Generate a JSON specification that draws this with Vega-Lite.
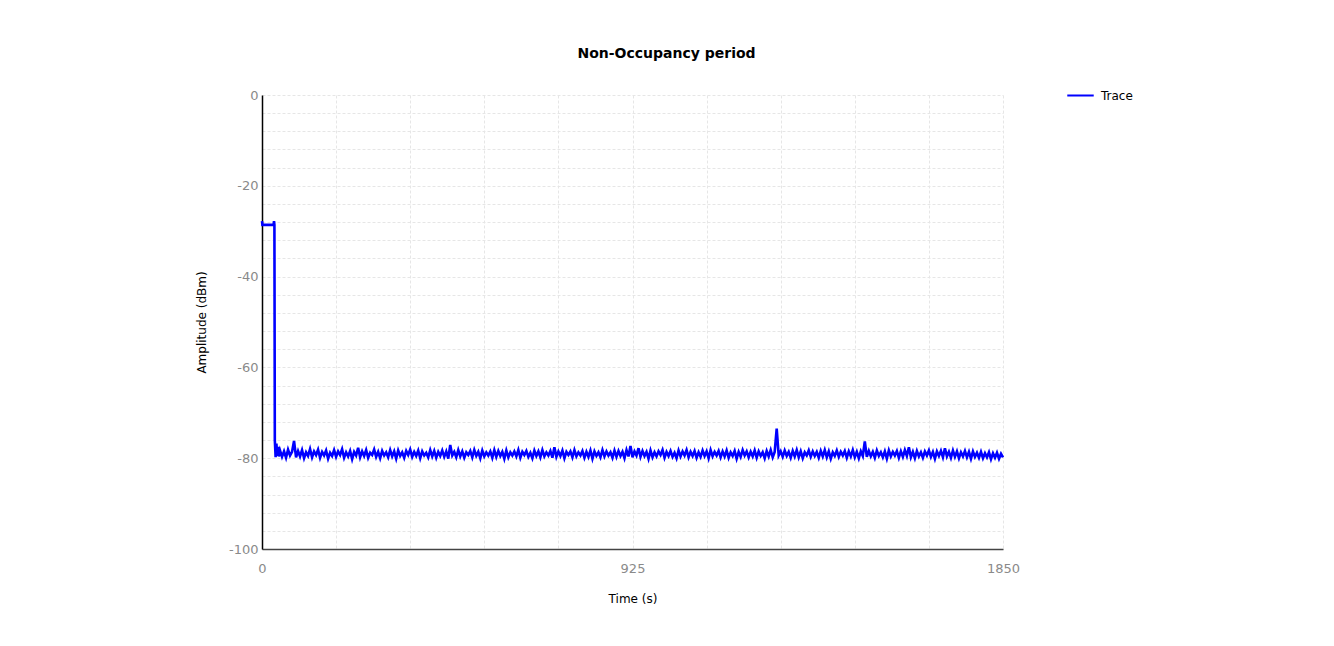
{
  "$schema": "https://vega.github.io/schema/vega-lite/v6.json",
  "autosize": {"type": "none"},
  "width": 741,
  "height": 454,
  "padding": {"left": 262, "top": 95, "right": 331, "bottom": 97},
  "background": "white",
  "title": {"text": "Non-Occupancy period", "anchor": "middle", "dx": 34, "offset": 20, "font": "DejaVu Sans", "fontSize": 14, "fontWeight": "bold", "color": "black"},
  "config": {
    "view": {"stroke": null},
    "font": "DejaVu Sans",
    "axis": {"gridColor": "#e6e6e6", "gridDash": [3, 2], "gridWidth": 1, "ticks": false, "labelFont": "DejaVu Sans", "labelFontSize": 13, "labelColor": "#8a8a8a", "titleFont": "DejaVu Sans", "titleFontSize": 12, "titleFontWeight": "normal", "titleColor": "black"}
  },
  "data": {"values": [
    {"t":0,"a":-27.8},{"t":1,"a":-28.6},{"t":15,"a":-28.6},{"t":29,"a":-28.6},{"t":30,"a":-27.8},{"t":31,"a":-28.6},
    {"t":32,"a":-76.0},{"t":34,"a":-79.8},{"t":36,"a":-76.8},{"t":38,"a":-79.5},{"t":40,"a":-77.5},{"t":42,"a":-79.6},
    {"t":45,"a":-78.3},{"t":50,"a":-79.7},{"t":55,"a":-78.5},{"t":60,"a":-79.9},{"t":65,"a":-78.1},{"t":70,"a":-79.4},{"t":75,"a":-78.6},{"t":80,"a":-76.2},{"t":85,"a":-79.8},{"t":90,"a":-78.4},
    {"t":95,"a":-79.6},{"t":100,"a":-78.2},{"t":105,"a":-80.0},{"t":110,"a":-78.7},{"t":115,"a":-79.5},{"t":120,"a":-78.0},{"t":125,"a":-79.8},{"t":130,"a":-78.5},{"t":135,"a":-79.3},{"t":140,"a":-78.1},
    {"t":145,"a":-79.9},{"t":150,"a":-78.6},{"t":155,"a":-79.4},{"t":160,"a":-78.3},{"t":165,"a":-80.1},{"t":170,"a":-78.8},{"t":175,"a":-79.5},{"t":180,"a":-78.2},{"t":185,"a":-79.7},{"t":190,"a":-78.5},
    {"t":195,"a":-79.3},{"t":200,"a":-78.0},{"t":205,"a":-79.9},{"t":210,"a":-78.7},{"t":215,"a":-79.6},{"t":220,"a":-78.4},{"t":225,"a":-80.2},{"t":230,"a":-78.6},{"t":235,"a":-79.4},{"t":240,"a":-77.7},
    {"t":245,"a":-79.8},{"t":250,"a":-78.5},{"t":255,"a":-79.5},{"t":260,"a":-78.2},{"t":265,"a":-79.9},{"t":270,"a":-78.8},{"t":275,"a":-79.3},{"t":280,"a":-78.1},{"t":285,"a":-79.7},{"t":290,"a":-78.6},
    {"t":295,"a":-80.0},{"t":300,"a":-78.4},{"t":305,"a":-79.4},{"t":310,"a":-78.7},{"t":315,"a":-79.8},{"t":320,"a":-78.2},{"t":325,"a":-79.6},{"t":330,"a":-78.5},{"t":335,"a":-80.1},{"t":340,"a":-78.3},
    {"t":345,"a":-79.5},{"t":350,"a":-78.7},{"t":355,"a":-79.9},{"t":360,"a":-78.4},{"t":365,"a":-79.3},{"t":370,"a":-78.1},{"t":375,"a":-79.7},{"t":380,"a":-78.6},{"t":385,"a":-79.5},{"t":390,"a":-78.3},
    {"t":395,"a":-80.0},{"t":400,"a":-78.5},{"t":405,"a":-79.4},{"t":410,"a":-78.8},{"t":415,"a":-79.8},{"t":420,"a":-78.2},{"t":425,"a":-79.6},{"t":430,"a":-78.4},{"t":435,"a":-79.9},{"t":440,"a":-78.6},
    {"t":445,"a":-79.5},{"t":450,"a":-78.3},{"t":455,"a":-79.7},{"t":460,"a":-78.5},{"t":465,"a":-80.1},{"t":470,"a":-77.1},{"t":475,"a":-79.4},{"t":480,"a":-78.6},{"t":485,"a":-79.8},{"t":490,"a":-78.2},
    {"t":495,"a":-79.6},{"t":500,"a":-78.5},{"t":505,"a":-79.9},{"t":510,"a":-78.7},{"t":515,"a":-79.3},{"t":520,"a":-78.4},{"t":525,"a":-79.8},{"t":530,"a":-78.2},{"t":535,"a":-79.5},{"t":540,"a":-78.6},
    {"t":545,"a":-80.0},{"t":550,"a":-78.3},{"t":555,"a":-79.6},{"t":560,"a":-78.7},{"t":565,"a":-79.4},{"t":570,"a":-78.5},{"t":575,"a":-79.9},{"t":580,"a":-78.2},{"t":585,"a":-79.7},{"t":590,"a":-78.4},
    {"t":595,"a":-79.5},{"t":600,"a":-78.6},{"t":605,"a":-80.1},{"t":610,"a":-78.3},{"t":615,"a":-79.8},{"t":620,"a":-78.7},{"t":625,"a":-79.4},{"t":630,"a":-78.5},{"t":635,"a":-79.6},{"t":640,"a":-78.2},
    {"t":645,"a":-79.9},{"t":650,"a":-78.6},{"t":655,"a":-79.3},{"t":660,"a":-78.4},{"t":665,"a":-79.7},{"t":670,"a":-78.8},{"t":675,"a":-80.0},{"t":680,"a":-78.3},{"t":685,"a":-79.5},{"t":690,"a":-78.5},
    {"t":695,"a":-79.8},{"t":700,"a":-78.2},{"t":705,"a":-79.6},{"t":710,"a":-78.7},{"t":715,"a":-79.4},{"t":720,"a":-78.4},{"t":725,"a":-79.9},{"t":730,"a":-77.6},{"t":735,"a":-79.7},{"t":740,"a":-78.5},
    {"t":745,"a":-79.5},{"t":750,"a":-78.3},{"t":755,"a":-80.0},{"t":760,"a":-78.6},{"t":765,"a":-79.3},{"t":770,"a":-78.5},{"t":775,"a":-79.8},{"t":780,"a":-78.2},{"t":785,"a":-79.6},{"t":790,"a":-78.7},
    {"t":795,"a":-79.4},{"t":800,"a":-78.4},{"t":805,"a":-79.9},{"t":810,"a":-78.6},{"t":815,"a":-79.7},{"t":820,"a":-78.3},{"t":825,"a":-80.1},{"t":830,"a":-78.5},{"t":835,"a":-79.5},{"t":840,"a":-78.7},
    {"t":845,"a":-79.8},{"t":850,"a":-78.2},{"t":855,"a":-79.6},{"t":860,"a":-78.5},{"t":865,"a":-79.4},{"t":870,"a":-78.7},{"t":875,"a":-79.9},{"t":880,"a":-78.3},{"t":885,"a":-79.7},{"t":890,"a":-78.4},
    {"t":895,"a":-79.5},{"t":900,"a":-78.6},{"t":905,"a":-80.0},{"t":910,"a":-78.2},{"t":915,"a":-79.6},{"t":920,"a":-77.3},{"t":925,"a":-79.8},{"t":930,"a":-78.5},{"t":935,"a":-79.4},{"t":940,"a":-77.8},
    {"t":945,"a":-79.7},{"t":950,"a":-78.4},{"t":955,"a":-79.5},{"t":960,"a":-78.6},{"t":965,"a":-80.1},{"t":970,"a":-78.3},{"t":975,"a":-79.8},{"t":980,"a":-78.7},{"t":985,"a":-79.6},{"t":990,"a":-78.5},
    {"t":995,"a":-79.3},{"t":1000,"a":-78.2},{"t":1005,"a":-79.9},{"t":1010,"a":-78.6},{"t":1015,"a":-79.5},{"t":1020,"a":-78.4},{"t":1025,"a":-79.7},{"t":1030,"a":-78.8},{"t":1035,"a":-80.0},{"t":1040,"a":-78.3},
    {"t":1045,"a":-79.6},{"t":1050,"a":-78.5},{"t":1055,"a":-79.4},{"t":1060,"a":-78.2},{"t":1065,"a":-79.8},{"t":1070,"a":-78.6},{"t":1075,"a":-79.5},{"t":1080,"a":-78.4},{"t":1085,"a":-79.9},{"t":1090,"a":-78.7},
    {"t":1095,"a":-79.7},{"t":1100,"a":-78.3},{"t":1105,"a":-79.5},{"t":1110,"a":-78.5},{"t":1115,"a":-80.0},{"t":1120,"a":-78.2},{"t":1125,"a":-79.6},{"t":1130,"a":-78.6},{"t":1135,"a":-79.4},{"t":1140,"a":-78.4},
    {"t":1145,"a":-79.8},{"t":1150,"a":-78.5},{"t":1155,"a":-79.6},{"t":1160,"a":-78.3},{"t":1165,"a":-79.9},{"t":1170,"a":-78.7},{"t":1175,"a":-79.5},{"t":1180,"a":-78.4},{"t":1185,"a":-80.1},{"t":1190,"a":-78.6},
    {"t":1195,"a":-79.7},{"t":1200,"a":-78.2},{"t":1205,"a":-79.4},{"t":1210,"a":-78.5},{"t":1215,"a":-79.8},{"t":1220,"a":-78.6},{"t":1225,"a":-79.6},{"t":1230,"a":-78.3},{"t":1235,"a":-79.9},{"t":1240,"a":-78.5},
    {"t":1245,"a":-79.5},{"t":1250,"a":-78.7},{"t":1255,"a":-80.0},{"t":1260,"a":-78.4},{"t":1265,"a":-79.6},{"t":1270,"a":-78.2},{"t":1275,"a":-79.8},{"t":1280,"a":-78.6},{"t":1285,"a":-73.5},{"t":1290,"a":-79.4},
    {"t":1295,"a":-78.5},{"t":1300,"a":-79.7},{"t":1305,"a":-78.3},{"t":1310,"a":-79.5},{"t":1315,"a":-78.6},{"t":1320,"a":-79.9},{"t":1325,"a":-78.4},{"t":1330,"a":-79.6},{"t":1335,"a":-78.2},{"t":1340,"a":-79.8},
    {"t":1345,"a":-78.5},{"t":1350,"a":-80.0},{"t":1355,"a":-78.7},{"t":1360,"a":-79.4},{"t":1365,"a":-78.3},{"t":1370,"a":-79.7},{"t":1375,"a":-78.5},{"t":1380,"a":-79.5},{"t":1385,"a":-78.6},{"t":1390,"a":-79.9},
    {"t":1395,"a":-78.4},{"t":1400,"a":-79.6},{"t":1405,"a":-78.2},{"t":1410,"a":-79.8},{"t":1415,"a":-78.5},{"t":1420,"a":-80.1},{"t":1425,"a":-78.7},{"t":1430,"a":-79.5},{"t":1435,"a":-78.3},{"t":1440,"a":-79.7},
    {"t":1445,"a":-78.6},{"t":1450,"a":-79.4},{"t":1455,"a":-78.4},{"t":1460,"a":-79.9},{"t":1465,"a":-78.5},{"t":1470,"a":-79.6},{"t":1475,"a":-78.2},{"t":1480,"a":-79.8},{"t":1485,"a":-78.6},{"t":1490,"a":-80.0},
    {"t":1495,"a":-78.5},{"t":1500,"a":-79.5},{"t":1505,"a":-76.3},{"t":1510,"a":-79.7},{"t":1515,"a":-78.4},{"t":1520,"a":-79.6},{"t":1525,"a":-78.6},{"t":1530,"a":-79.9},{"t":1535,"a":-78.3},{"t":1540,"a":-79.5},
    {"t":1545,"a":-78.7},{"t":1550,"a":-79.8},{"t":1555,"a":-78.5},{"t":1560,"a":-80.1},{"t":1565,"a":-78.3},{"t":1570,"a":-79.6},{"t":1575,"a":-78.6},{"t":1580,"a":-79.4},{"t":1585,"a":-78.4},{"t":1590,"a":-79.9},
    {"t":1595,"a":-78.5},{"t":1600,"a":-79.7},{"t":1605,"a":-78.2},{"t":1610,"a":-79.5},{"t":1615,"a":-77.6},{"t":1620,"a":-79.8},{"t":1625,"a":-78.6},{"t":1630,"a":-80.0},{"t":1635,"a":-78.4},{"t":1640,"a":-79.6},
    {"t":1645,"a":-78.7},{"t":1650,"a":-79.9},{"t":1655,"a":-78.5},{"t":1660,"a":-79.4},{"t":1665,"a":-78.3},{"t":1670,"a":-79.7},{"t":1675,"a":-78.6},{"t":1680,"a":-80.1},{"t":1685,"a":-78.5},{"t":1690,"a":-79.5},
    {"t":1695,"a":-78.4},{"t":1700,"a":-79.8},{"t":1705,"a":-77.8},{"t":1710,"a":-79.6},{"t":1715,"a":-78.6},{"t":1720,"a":-79.9},{"t":1725,"a":-78.3},{"t":1730,"a":-79.7},{"t":1735,"a":-78.5},{"t":1740,"a":-80.0},
    {"t":1745,"a":-78.7},{"t":1750,"a":-79.6},{"t":1755,"a":-78.4},{"t":1760,"a":-79.8},{"t":1765,"a":-78.6},{"t":1770,"a":-80.1},{"t":1775,"a":-78.5},{"t":1780,"a":-79.7},{"t":1785,"a":-78.8},{"t":1790,"a":-79.9},
    {"t":1795,"a":-78.6},{"t":1800,"a":-80.0},{"t":1805,"a":-78.9},{"t":1810,"a":-79.8},{"t":1815,"a":-78.7},{"t":1820,"a":-80.2},{"t":1825,"a":-78.9},{"t":1830,"a":-79.9},{"t":1835,"a":-78.8},{"t":1840,"a":-80.1},
    {"t":1845,"a":-79.0},{"t":1850,"a":-79.8}
  ]},
  "mark": {"type": "line", "strokeWidth": 2.6, "interpolate": "linear", "strokeJoin": "miter"},
  "encoding": {
    "x": {"field": "t", "type": "quantitative", "title": "Time (s)",
      "scale": {"domain": [0, 1850], "nice": false, "zero": false},
      "axis": {"values": [0,185,370,555,740,925,1110,1295,1480,1665,1850], "labelExpr": "datum.value % 925 == 0 ? toString(datum.value) : ''", "labelPadding": 13, "titlePadding": 18, "domainColor": "#444444", "domainWidth": 1.5, "labelFlush": false}},
    "y": {"field": "a", "type": "quantitative", "title": "Amplitude (dBm)",
      "scale": {"domain": [-100, 0], "nice": false},
      "axis": {"values": [-100,-96,-92,-88,-84,-80,-76,-72,-68,-64,-60,-56,-52,-48,-44,-40,-36,-32,-28,-24,-20,-16,-12,-8,-4,0], "labelExpr": "datum.value % 20 == 0 ? toString(datum.value) : ''", "labelPadding": 4, "titlePadding": 20, "domainColor": "black", "domainWidth": 1.5, "labelFlush": false}},
    "color": {"datum": "Trace", "type": "nominal", "scale": {"range": ["#0000ff"]},
      "legend": {"title": null, "orient": "none", "legendX": 804, "legendY": -14, "symbolType": "stroke", "symbolSize": 700, "symbolStrokeWidth": 2, "labelFont": "DejaVu Sans", "labelFontSize": 12, "labelColor": "black", "labelOffset": 6}}
  }
}
